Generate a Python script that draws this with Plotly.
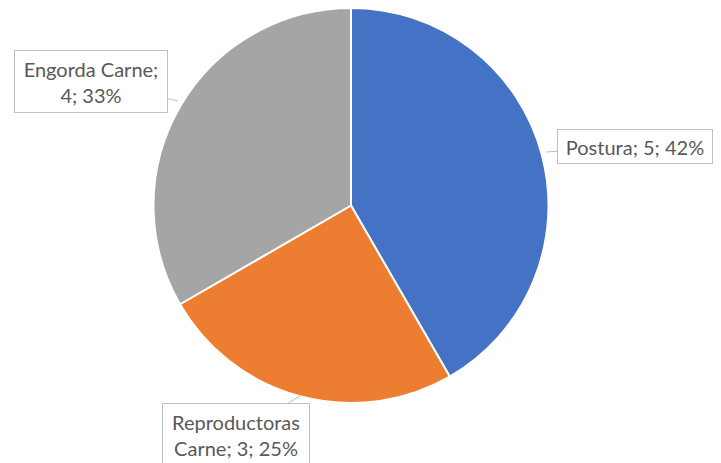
import plotly.graph_objects as go

labels = ["Postura", "Reproductoras Carne", "Engorda Carne"]
values = [5, 3, 4]
colors = ["#4472C4", "#ED7D31", "#A5A5A5"]

W, H = 721, 463
OFF = 8  # page body margin shift
total = sum(values)


def px_x(x):
    return (x - OFF) / W


def px_y(y):
    return 1 - (y - OFF) / H


fig = go.Figure()

fig.add_trace(go.Pie(
    labels=labels,
    values=values,
    sort=False,
    direction="clockwise",
    rotation=0,
    marker=dict(colors=colors, line=dict(color="white", width=2)),
    textinfo="none",
    hoverinfo="label+value+percent",
    showlegend=False,
    domain=dict(x=[px_x(153), px_x(549)], y=[px_y(403), min(1, px_y(6))]),
))

# callout label boxes (text, tip point, box center, box size)
callouts = [
    ("Postura; {v}; {p}%", (546, 152), (635, 146.5), (156, 35)),
    ("Reproductoras<br>Carne; {v}; {p}%", (300, 396), (236, 434.5), (148, 63)),
    ("Engorda Carne;<br>{v}; {p}%", (178, 101), (91, 81.5), (154, 63)),
]

for (fmt, tip, center, size), v in zip(callouts, values):
    pct = round(v / total * 100)
    fig.add_annotation(
        text=fmt.format(v=v, p=pct),
        xref="paper", yref="paper",
        x=px_x(tip[0]), y=px_y(tip[1]),
        ax=center[0] - tip[0], ay=center[1] - tip[1],
        showarrow=True, arrowhead=0, arrowwidth=1, arrowcolor="#BFBFBF",
        width=size[0] - 2, height=size[1] - 2,
        borderpad=0, bordercolor="#BFBFBF", borderwidth=1,
        bgcolor="white",
        align="center",
        font=dict(family="Lato", size=20, color="#595959"),
    )

fig.update_layout(
    width=W, height=H,
    margin=dict(l=0, r=0, t=0, b=0),
    paper_bgcolor="white",
    plot_bgcolor="white",
)

fig.write_html("out.html")
